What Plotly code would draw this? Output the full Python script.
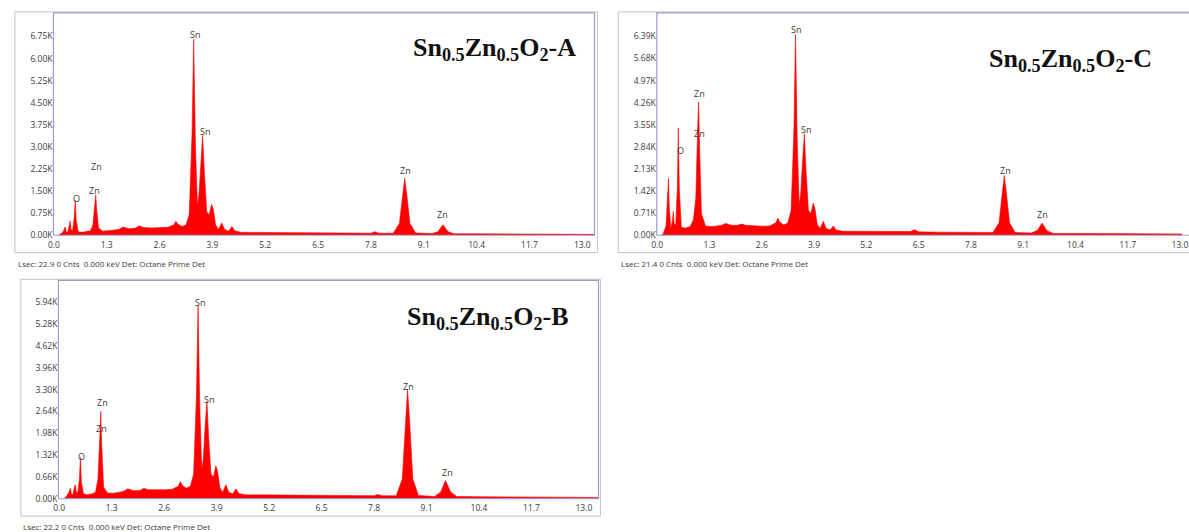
import plotly.graph_objects as go

# ---------------- data (energy in keV, counts) ----------------
ENERGY_KEV = [0.10, 0.15, 0.22, 0.26, 0.28, 0.30, 0.34, 0.38, 0.40, 0.42, 0.46, 0.50, 0.525, 0.55, 0.60,
              0.70, 0.82, 0.90, 0.96, 1.01, 1.03, 1.05, 1.10, 1.20, 1.35, 1.50, 1.60, 1.70, 1.85, 2.00,
              2.10, 2.20, 2.40, 2.60, 2.80, 2.95, 3.00, 3.05, 3.15, 3.25, 3.33, 3.40, 3.44, 3.48, 3.53,
              3.57, 3.62, 3.66, 3.70, 3.76, 3.82, 3.88, 3.92, 3.98, 4.05, 4.13, 4.20, 4.30, 4.38, 4.45,
              4.60, 5.00, 6.00, 6.30, 6.40, 6.50, 7.00, 7.80, 7.90, 8.00, 8.35, 8.50, 8.58, 8.63, 8.68,
              8.76, 8.90, 9.30, 9.45, 9.57, 9.70, 9.85, 10.5, 11.5, 12.5, 13.4]

COUNTS_A = [0, 30, 100, 250, 280, 120, 100, 350, 480, 200, 150, 600, 1190, 500, 120,
            100, 120, 150, 350, 1000, 1370, 900, 250, 140, 150, 180, 200, 280, 220, 240,
            320, 260, 250, 260, 270, 350, 480, 380, 300, 350, 700, 3500, 6650, 3200, 1000,
            1400, 2600, 3390, 2200, 800, 700, 1050, 900, 350, 200, 420, 200, 140, 300, 150,
            100, 100, 90, 85, 90, 80, 80, 70, 120, 70, 70, 400, 1400, 1930, 1400,
            400, 80, 60, 120, 360, 120, 50, 50, 40, 40, 30]

COUNTS_B = [0, 30, 150, 300, 320, 150, 120, 380, 420, 200, 180, 600, 1250, 500, 150,
            120, 150, 200, 600, 2000, 2640, 1700, 350, 170, 170, 200, 230, 300, 240, 250,
            320, 270, 260, 270, 290, 380, 520, 400, 320, 380, 750, 3100, 5850, 2900, 900,
            1200, 2300, 2940, 1900, 750, 650, 1000, 850, 330, 200, 420, 200, 150, 300, 160,
            120, 120, 110, 100, 110, 100, 100, 90, 130, 90, 90, 600, 2400, 3300, 2400,
            600, 100, 70, 200, 550, 200, 70, 60, 50, 50, 40]

COUNTS_C = [0, 50, 300, 1300, 1820, 900, 200, 500, 770, 400, 300, 1500, 3450, 1500, 250,
            230, 280, 500, 1200, 3600, 4280, 3000, 700, 300, 280, 300, 320, 380, 320, 320,
            360, 320, 300, 290, 300, 400, 550, 420, 330, 400, 800, 3400, 6450, 3100, 1000,
            1350, 2500, 3260, 2100, 800, 700, 1030, 880, 350, 220, 450, 220, 170, 300, 170,
            130, 130, 110, 120, 180, 110, 100, 90, 110, 90, 90, 400, 1400, 1920, 1400,
            400, 90, 70, 150, 390, 140, 60, 60, 50, 50, 40]

X_TICKS = [0.0, 1.3, 2.6, 3.9, 5.2, 6.5, 7.8, 9.1, 10.4, 11.7, 13.0]
X_TICK_TEXT = ["0.0", "1.3", "2.6", "3.9", "5.2", "6.5", "7.8", "9.1", "10.4", "11.7", "13.0"]

Y_TICKS_A = [0, 750, 1500, 2250, 3000, 3750, 4500, 5250, 6000, 6750]
Y_TEXT_A = ["0.00K", "0.75K", "1.50K", "2.25K", "3.00K", "3.75K", "4.50K", "5.25K", "6.00K", "6.75K"]
Y_TICKS_B = [0, 660, 1320, 1980, 2640, 3300, 3960, 4620, 5280, 5940]
Y_TEXT_B = ["0.00K", "0.66K", "1.32K", "1.98K", "2.64K", "3.30K", "3.96K", "4.62K", "5.28K", "5.94K"]
Y_TICKS_C = [0, 710, 1420, 2130, 2840, 3550, 4260, 4970, 5680, 6390]
Y_TEXT_C = ["0.00K", "0.71K", "1.42K", "2.13K", "2.84K", "3.55K", "4.26K", "4.97K", "5.68K", "6.39K"]

LABEL_TEXT = ["O", "Zn", "Zn", "Sn", "Sn", "Zn", "Zn"]
LABEL_E_A = [0.55, 1.01, 1.06, 3.47, 3.71, 8.65, 9.57]
LABEL_Y_A = [1260, 1530, 2340, 6810, 3510, 2210, 690]
LABEL_E_B = [0.56, 1.05, 1.08, 3.48, 3.70, 8.65, 9.61]
LABEL_Y_B = [1270, 2130, 2920, 5940, 3000, 3400, 790]
LABEL_E_C = [0.57, 1.06, 1.06, 3.46, 3.69, 8.65, 9.58]
LABEL_Y_C = [2720, 3260, 4560, 6610, 3390, 2080, 680]

TITLES = ["Sn<sub>0.5</sub>Zn<sub>0.5</sub>O<sub>2</sub>-A",
          "Sn<sub>0.5</sub>Zn<sub>0.5</sub>O<sub>2</sub>-B",
          "Sn<sub>0.5</sub>Zn<sub>0.5</sub>O<sub>2</sub>-C"]
CAPTIONS = ["Lsec: 22.9 0 Cnts  0.000 keV Det: Octane Prime Det",
            "Lsec: 22.2 0 Cnts  0.000 keV Det: Octane Prime Det",
            "Lsec: 21.4 0 Cnts  0.000 keV Det: Octane Prime Det"]

# ---------------- layout helpers ----------------
W, H = 1189, 532


def px(x):
    return x / W


def py(y):
    return 1 - y / H


RED = "#ff0000"
BORDER = "#9c9cd2"
FRAME = "#c4c4c4"
TXT = "#3a3a3a"
SANS = "Open Sans, DejaVu Sans, sans-serif"

panels = [
    dict(c=COUNTS_A, yt=Y_TICKS_A, ytx=Y_TEXT_A, le=LABEL_E_A, ly=LABEL_Y_A,
         box=(48, 13, 595, 237.5), frame=(9, 12, 598, 255), xr=[-0.01, 13.3], yr=[0, 7550],
         title=TITLES[0], tpos=(494, 49), cap=CAPTIONS[0], cpos=(10, 266)),
    dict(c=COUNTS_B, yt=Y_TICKS_B, ytx=Y_TEXT_B, le=LABEL_E_B, ly=LABEL_Y_B,
         box=(53, 283, 599, 503.5), frame=(15, 282, 601, 521), xr=[-0.02, 13.36], yr=[0, 6600],
         title=TITLES[1], tpos=(487, 321), cap=CAPTIONS[1], cpos=(15, 531)),
    dict(c=COUNTS_C, yt=Y_TICKS_C, ytx=Y_TEXT_C, le=LABEL_E_C, ly=LABEL_Y_C,
         box=(658, 13, 1189, 237.5), frame=(619, 12, 1230, 255), xr=[-0.01, 13.05], yr=[0, 7145],
         title=TITLES[2], tpos=(1076, 61), cap=CAPTIONS[2], cpos=(620, 266)),
]

fig = go.Figure()
shapes = []
annotations = []

for i, p in enumerate(panels):
    n = "" if i == 0 else str(i + 1)
    xa = "x" + n
    ya = "y" + n
    l, t, r, b = p["box"]
    fig.add_trace(go.Scatter(
        x=ENERGY_KEV, y=p["c"], xaxis=xa, yaxis=ya, mode="lines",
        line=dict(color=RED, width=0.6), fill="tozeroy", fillcolor=RED,
        showlegend=False, hoverinfo="skip"))
    axis_font = dict(family=SANS, size=8.5, color=TXT)
    fig.layout["xaxis" + n] = dict(
        domain=[px(l), min(px(r), 1.0)], range=p["xr"], anchor=ya,
        tickvals=X_TICKS, ticktext=X_TICK_TEXT, showgrid=False, zeroline=False,
        showline=False, ticks="", tickfont=axis_font, fixedrange=True,
        ticklabeloverflow="allow", ticklabelstandoff=3)
    fig.layout["yaxis" + n] = dict(
        domain=[py(b), py(t)], range=p["yr"], anchor=xa,
        tickvals=p["yt"], ticktext=p["ytx"], showgrid=False, zeroline=False,
        showline=False, ticks="", tickfont=axis_font, fixedrange=True,
        ticklabelstandoff=0)

    # outer light frame
    fl, ft, fr, fb = p["frame"]
    shapes.append(dict(type="rect", xref="paper", yref="paper",
                       x0=px(fl), x1=px(fr), y0=py(fb), y1=py(ft),
                       line=dict(color=FRAME, width=1), layer="below"))
    # inner plot border
    shapes.append(dict(type="rect", xref="paper", yref="paper",
                       x0=px(l), x1=px(r) if r < W else px(W + 20), y0=py(b), y1=py(t),
                       line=dict(color=BORDER, width=1.2), layer="above"))

    # peak labels
    for txt, e, yv in zip(LABEL_TEXT, p["le"], p["ly"]):
        annotations.append(dict(x=e, y=yv, xref=xa, yref=ya, text=txt, showarrow=False,
                                font=dict(family=SANS, size=9, color=TXT),
                                xanchor="center", yanchor="middle"))
    # title
    annotations.append(dict(x=px(p["tpos"][0]), y=py(p["tpos"][1]), xref="paper", yref="paper",
                            text="<b>" + p["title"] + "</b>", showarrow=False,
                            font=dict(family="Liberation Serif, Times New Roman, serif", size=26, color="#111111"),
                            xanchor="center", yanchor="middle"))
    # caption
    annotations.append(dict(x=px(p["cpos"][0]), y=py(p["cpos"][1]), xref="paper", yref="paper",
                            text=p["cap"], showarrow=False,
                            font=dict(family=SANS, size=8, color=TXT),
                            xanchor="left", yanchor="middle"))

fig.update_layout(
    width=W, height=H, margin=dict(l=0, r=0, t=0, b=0),
    paper_bgcolor="white", plot_bgcolor="white",
    shapes=shapes, annotations=annotations, showlegend=False)

fig.write_html("out.html", config={"displayModeBar": False})
